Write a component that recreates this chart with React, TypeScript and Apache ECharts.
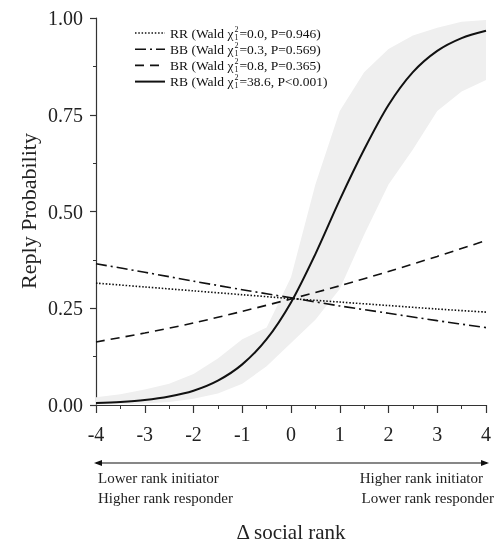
import React, { useEffect, useRef } from "react";
import * as echarts from "echarts";

// x positions (Δ social rank)
const xFine = [-4, -3.5, -3, -2.5, -2, -1.5, -1, -0.5, 0, 0.5, 1, 1.5, 2, 2.5, 3, 3.5, 4];
const xInt = [-4, -3, -2, -1, 0, 1, 2, 3, 4];

// Predicted reply probabilities
const rrValues = [0.315, 0.305, 0.295, 0.285, 0.275, 0.266, 0.257, 0.248, 0.24];
const bbValues = [0.365, 0.343, 0.32, 0.298, 0.277, 0.256, 0.237, 0.218, 0.2];
const brValues = [0.163, 0.186, 0.212, 0.242, 0.274, 0.308, 0.345, 0.384, 0.425];
const rbValues = [0.005, 0.008, 0.013, 0.022, 0.037, 0.063, 0.105, 0.17, 0.265, 0.39, 0.53, 0.66, 0.775, 0.86, 0.915, 0.948, 0.967];
// RB confidence band
const rbLower = [0.001, 0.002, 0.004, 0.008, 0.016, 0.03, 0.055, 0.1, 0.16, 0.22, 0.3, 0.44, 0.57, 0.66, 0.76, 0.81, 0.84];
const rbUpper = [0.02, 0.028, 0.04, 0.055, 0.08, 0.12, 0.17, 0.2, 0.33, 0.57, 0.76, 0.86, 0.92, 0.955, 0.975, 0.99, 0.995];

const yTicks = ["0.00", "0.25", "0.50", "0.75", "1.00"];
const xTicks = ["-4", "-3", "-2", "-1", "0", "1", "2", "3", "4"];

const legendNames = ["RR", "BB", "BR", "RB"];
const legendStats = ["=0.0, P=0.946)", "=0.3, P=0.569)", "=0.8, P=0.365)", "=38.6, P<0.001)"];

const FONT = '"Liberation Serif", "Times New Roman", serif';
const INK = "#111";

export default function App() {
  const ref = useRef<HTMLDivElement>(null);
  useEffect(() => {
    if (!ref.current) return;
    const chart = echarts.init(ref.current, null, { renderer: "svg" });

    const canvas = document.createElement("canvas");
    const ctx = canvas.getContext("2d")!;
    const measure = (s: string, size: number) => {
      ctx.font = `${size}px ${FONT}`;
      return ctx.measureText(s).width;
    };

    const dashes: any[] = [
      [1.5, 1.8],
      [11, 4, 2, 4],
      [9, 6],
      "solid",
    ];
    const widths = [1.6, 1.6, 1.6, 2];

    const legendGraphics: any[] = [];
    const lx0 = 135, lx1 = 165, tx = 170, ly0 = 33, ldy = 16.2, fs = 13.5;
    legendNames.forEach((n, i) => {
      const y = ly0 + i * ldy;
      legendGraphics.push({
        type: "line",
        shape: { x1: lx0, y1: y, x2: lx1, y2: y },
        style: { stroke: INK, lineWidth: widths[i], lineDash: dashes[i] === "solid" ? null : dashes[i] },
      });
      const prefix = `${n} (Wald χ`;
      const w = measure(prefix, fs);
      legendGraphics.push({
        type: "text", x: tx, y, style: { text: prefix, font: `${fs}px ${FONT}`, fill: INK, verticalAlign: "middle", lineHeight: 13 },
      });
      legendGraphics.push({
        type: "text", x: tx + w + 1, y: y - 0.5, style: { text: "2", font: `8px ${FONT}`, fill: INK, verticalAlign: "bottom", lineHeight: 7 },
      });
      legendGraphics.push({
        type: "text", x: tx + w + 1, y: y + 0.5, style: { text: "1", font: `8px ${FONT}`, fill: INK, verticalAlign: "top", lineHeight: 7 },
      });
      legendGraphics.push({
        type: "text", x: tx + w + 6, y, style: { text: legendStats[i], font: `${fs}px ${FONT}`, fill: INK, verticalAlign: "middle", lineHeight: 13 },
      });
    });

    const ay = 463, ax0 = 94, ax1 = 489;
    const arrowGraphics: any[] = [
      { type: "line", shape: { x1: ax0 + 2, y1: ay, x2: ax1 - 2, y2: ay }, style: { stroke: INK, lineWidth: 1.2 } },
      { type: "polygon", shape: { points: [[ax0, ay], [ax0 + 8, ay - 3], [ax0 + 8, ay + 3]] }, style: { fill: INK } },
      { type: "polygon", shape: { points: [[ax1, ay], [ax1 - 8, ay - 3], [ax1 - 8, ay + 3]] }, style: { fill: INK } },
      { type: "text", x: 98, y: 478, style: { text: "Lower rank initiator", font: `15px ${FONT}`, fill: "#222", verticalAlign: "middle" } },
      { type: "text", x: 98, y: 498, style: { text: "Higher rank responder", font: `15px ${FONT}`, fill: "#222", verticalAlign: "middle" } },
      { type: "text", x: 483, y: 478, style: { text: "Higher rank initiator", font: `15px ${FONT}`, fill: "#222", align: "right", verticalAlign: "middle" } },
      { type: "text", x: 494, y: 498, style: { text: "Lower rank responder", font: `15px ${FONT}`, fill: "#222", align: "right", verticalAlign: "middle" } },
      { type: "text", x: 291, y: 532, style: { text: "Δ social rank", font: `21px ${FONT}`, fill: "#222", align: "center", verticalAlign: "middle" } },
      { type: "text", x: 28, y: 211, rotation: Math.PI / 2, style: { text: "Reply Probability", font: `22px ${FONT}`, fill: "#222", align: "center", verticalAlign: "middle" } },
    ];

    const pair = (xs: number[], ys: number[]) => xs.map((x, i) => [x, ys[i]]);
    const lineSeries = (name: string, data: number[][], i: number) => ({
      name,
      type: "line",
      data,
      symbol: "none",
      smooth: 0.3,
      z: 5,
      lineStyle: { color: INK, width: widths[i], type: dashes[i] },
    });

    const bandData = xFine.map((x, i) => [x, rbLower[i], rbUpper[i]]);

    chart.setOption({
      animation: false,
      grid: { left: 96, right: 10, top: 18, bottom: 138 },
      xAxis: {
        type: "value",
        min: -4,
        max: 4,
        interval: 1,
        axisLine: { onZero: false, lineStyle: { color: "#333", width: 1.2 } },
        axisTick: { inside: false, length: 8, lineStyle: { color: "#333", width: 1.2 } },
        minorTick: { show: true, splitNumber: 2, length: 4, lineStyle: { color: "#333" } },
        splitLine: { show: false },
        axisLabel: {
          margin: 19,
          fontSize: 20,
          fontFamily: FONT,
          color: "#222",
          formatter: (v: number) => xTicks[Math.round(v) + 4] ?? String(v),
        },
      },
      yAxis: {
        type: "value",
        min: 0,
        max: 1,
        interval: 0.25,
        axisLine: { show: true, onZero: false, lineStyle: { color: "#333", width: 1.2 } },
        axisTick: { show: true, length: 6, lineStyle: { color: "#333", width: 1.2 } },
        minorTick: { show: true, splitNumber: 2, length: 3, lineStyle: { color: "#333" } },
        splitLine: { show: false },
        axisLabel: {
          margin: 13,
          fontSize: 20,
          fontFamily: FONT,
          color: "#222",
          formatter: (v: number) => yTicks[Math.round(v * 4)] ?? String(v),
        },
      },
      series: [
        {
          name: "band",
          type: "custom",
          data: bandData,
          z: 1,
          silent: true,
          renderItem: (params: any, api: any) => {
            if (params.dataIndex !== 0) return null;
            const top = bandData.map((d) => api.coord([d[0], d[2]]));
            const bottom = bandData.map((d) => api.coord([d[0], d[1]])).reverse();
            return {
              type: "polygon",
              shape: { points: top.concat(bottom), smooth: 0 },
              style: { fill: "#efefef", stroke: "none" },
            };
          },
        },
        lineSeries("RR", pair(xInt, rrValues), 0),
        lineSeries("BB", pair(xInt, bbValues), 1),
        lineSeries("BR", pair(xInt, brValues), 2),
        lineSeries("RB", pair(xFine, rbValues), 3),
      ],
      graphic: [...legendGraphics, ...arrowGraphics],
    });
    return () => chart.dispose();
  }, []);
  return <div ref={ref} style={{ position: "fixed", left: 0, top: 0, width: 496, height: 543 }} />;
}
